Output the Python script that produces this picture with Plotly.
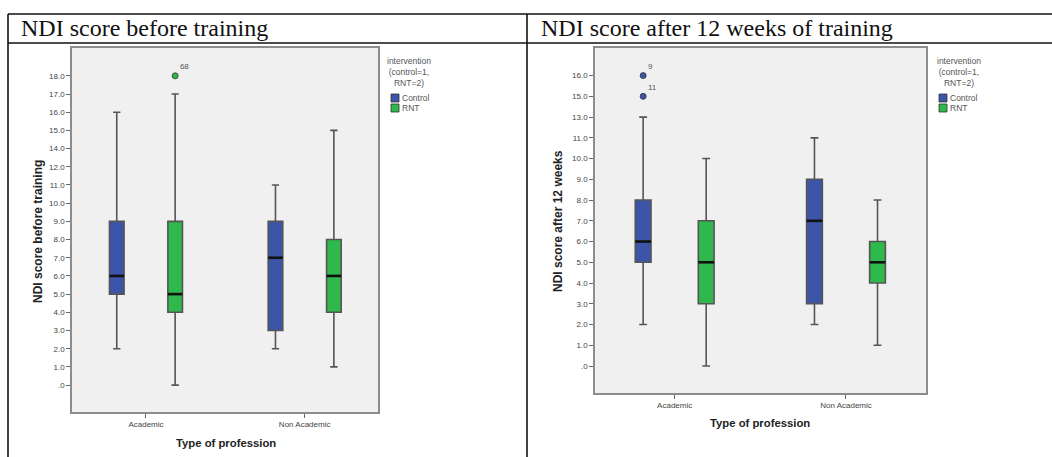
import plotly.graph_objects as go

W, H = 1052, 457

categories = ["Academic", "Non Academic"]

# y-axis levels shown on each chart (only observed values are listed, equally spaced)
before_levels = [0, 1, 2, 3, 4, 5, 6, 7, 8, 9, 10, 11, 12, 14, 15, 16, 17, 18]
after_levels = [0, 1, 2, 3, 4, 5, 6, 7, 8, 9, 10, 11, 13, 15, 16]

# NDI score before training
before_control_low = [2, 2]
before_control_q1 = [5, 3]
before_control_med = [6, 7]
before_control_q3 = [9, 9]
before_control_high = [16, 11]

before_rnt_low = [0, 1]
before_rnt_q1 = [4, 4]
before_rnt_med = [5, 6]
before_rnt_q3 = [9, 8]
before_rnt_high = [17, 15]

before_outlier_group = ["RNT"]
before_outlier_cat = ["Academic"]
before_outlier_val = [18]
before_outlier_lab = ["68"]

# NDI score after 12 weeks of training
after_control_low = [2, 2]
after_control_q1 = [5, 3]
after_control_med = [6, 7]
after_control_q3 = [8, 9]
after_control_high = [13, 11]

after_rnt_low = [0, 1]
after_rnt_q1 = [3, 4]
after_rnt_med = [5, 5]
after_rnt_q3 = [7, 6]
after_rnt_high = [10, 8]

after_outlier_group = ["Control", "Control"]
after_outlier_cat = ["Academic", "Academic"]
after_outlier_val = [16, 15]
after_outlier_lab = ["9", "11"]

COLORS = {"Control": "#3d55a9", "RNT": "#2fb84b"}
OFFSET = {"Control": -0.184, "RNT": 0.184}
BOXW = 0.092


def px_x(p):
    return p / W


def px_y(p):
    return 1 - p / H


def fmt(v):
    return ".0" if v == 0 else f"{v:.1f}"


fig = go.Figure()


def add_panel(xa, ya, levels, groups, outliers):
    idx = {v: i for i, v in enumerate(levels)}
    for name, (low, q1, med, q3, high) in groups.items():
        xs = [i + OFFSET[name] for i in range(len(categories))]
        fig.add_trace(go.Box(
            x=xs,
            lowerfence=[idx[v] for v in low],
            q1=[idx[v] for v in q1],
            median=[idx[v] for v in med],
            q3=[idx[v] for v in q3],
            upperfence=[idx[v] for v in high],
            width=BOXW,
            whiskerwidth=0.5,
            fillcolor=COLORS[name],
            line=dict(color="#555", width=1.6),
            boxpoints=False,
            showlegend=False,
            name=name,
            xaxis=xa, yaxis=ya,
        ))
        # thick black median bars
        mx, my = [], []
        for x, m in zip(xs, med):
            mx += [x - BOXW / 2, x + BOXW / 2, None]
            my += [idx[m], idx[m], None]
        fig.add_trace(go.Scatter(x=mx, y=my, mode="lines",
                                 line=dict(color="#111", width=2.6),
                                 showlegend=False, hoverinfo="skip",
                                 xaxis=xa, yaxis=ya))
    grp, cat, val, lab = outliers
    fig.add_trace(go.Scatter(
        x=[categories.index(c) + OFFSET[g] for g, c in zip(grp, cat)],
        y=[idx[v] for v in val],
        mode="markers+text",
        text=lab,
        textposition="top right",
        textfont=dict(size=8, color="#555", family="Liberation Sans"),
        marker=dict(size=6, color=[COLORS[g] for g in grp],
                    line=dict(color="#333", width=0.8)),
        showlegend=False,
        xaxis=xa, yaxis=ya,
    ))


add_panel("x", "y", before_levels, {
    "Control": (before_control_low, before_control_q1, before_control_med,
                before_control_q3, before_control_high),
    "RNT": (before_rnt_low, before_rnt_q1, before_rnt_med, before_rnt_q3,
            before_rnt_high),
}, (before_outlier_group, before_outlier_cat, before_outlier_val, before_outlier_lab))

add_panel("x2", "y2", after_levels, {
    "Control": (after_control_low, after_control_q1, after_control_med,
                after_control_q3, after_control_high),
    "RNT": (after_rnt_low, after_rnt_q1, after_rnt_med, after_rnt_q3,
            after_rnt_high),
}, (after_outlier_group, after_outlier_cat, after_outlier_val, after_outlier_lab))

tickfont = dict(size=8, color="#444", family="Liberation Sans")
axis_common = dict(showgrid=False, zeroline=False, showline=True, mirror=True,
                   linecolor="#8c8c8c", linewidth=1.5, ticks="outside",
                   ticklen=4, tickcolor="#666", tickfont=tickfont, fixedrange=True)

fig.update_layout(
    width=W, height=H,
    margin=dict(l=0, r=0, t=0, b=0),
    paper_bgcolor="white",
    plot_bgcolor="#f0f0f0",
    boxmode="overlay",
    showlegend=False,
    xaxis=dict(domain=[px_x(72), px_x(378)], range=[-0.466, 1.462],
               tickvals=[0, 1], ticktext=categories, anchor="y", **axis_common),
    yaxis=dict(domain=[px_y(412), px_y(48)], range=[-1.48, 18.53],
               tickvals=list(range(len(before_levels))),
               ticktext=[fmt(v) for v in before_levels], anchor="x", **axis_common),
    xaxis2=dict(domain=[px_x(595), px_x(926)], range=[-0.465, 1.467],
                tickvals=[0, 1], ticktext=categories, anchor="y2", **axis_common),
    yaxis2=dict(domain=[px_y(393), px_y(48)], range=[-1.30, 15.33],
                tickvals=list(range(len(after_levels))),
                ticktext=[fmt(v) for v in after_levels], anchor="x2", **axis_common),
)

# table borders
line = dict(color="#111", width=1.6)
shapes = [
    dict(type="line", xref="paper", yref="paper", x0=px_x(8), x1=1, y0=px_y(14), y1=px_y(14), line=line),
    dict(type="line", xref="paper", yref="paper", x0=px_x(8), x1=1, y0=px_y(43), y1=px_y(43), line=line),
    dict(type="line", xref="paper", yref="paper", x0=px_x(8), x1=px_x(8), y0=px_y(14), y1=0, line=line),
    dict(type="line", xref="paper", yref="paper", x0=px_x(527), x1=px_x(527), y0=px_y(14), y1=0, line=line),
]

annots = []
title_font = dict(family="Liberation Serif", size=24, color="#111")
annots.append(dict(text="NDI score before training", x=px_x(19), y=px_y(28),
                   xref="paper", yref="paper", xanchor="left", yanchor="middle",
                   showarrow=False, font=title_font))
annots.append(dict(text="NDI score after 12 weeks of training", x=px_x(539), y=px_y(28),
                   xref="paper", yref="paper", xanchor="left", yanchor="middle",
                   showarrow=False, font=title_font))

ybold = dict(family="Liberation Sans", size=12, color="#222")
xbold = dict(family="Liberation Sans", size=11.3, color="#222")
for text, x, y, ang, f in [
    ("<b>NDI score before training</b>", 38, 231, -90, ybold),
    ("<b>NDI score after 12 weeks</b>", 558, 221, -90, ybold),
    ("<b>Type of profession</b>", 226, 443, 0, xbold),
    ("<b>Type of profession</b>", 760, 423, 0, xbold),
]:
    annots.append(dict(text=text, x=px_x(x), y=px_y(y), textangle=ang,
                       xanchor="center", yanchor="middle",
                       xref="paper", yref="paper", showarrow=False, font=f))

# legends (drawn manually)
leg_font = dict(family="Liberation Sans", size=8.5, color="#555")
for cx, sq_x in [(409, 391), (959, 939)]:
    annots.append(dict(text="intervention<br>(control=1,<br>RNT=2)", x=px_x(cx), y=px_y(54),
                       xref="paper", yref="paper", xanchor="center", yanchor="top",
                       align="center", showarrow=False, font=leg_font))
    for k, (name, top) in enumerate([("Control", 94), ("RNT", 104)]):
        shapes.append(dict(type="rect", xref="paper", yref="paper",
                           x0=px_x(sq_x), x1=px_x(sq_x + 8), y0=px_y(top), y1=px_y(top + 8),
                           fillcolor=COLORS[name], line=dict(color="#333", width=0.8)))
        annots.append(dict(text=name, x=px_x(sq_x + 9), y=px_y(top + 4),
                           xref="paper", yref="paper", xanchor="left", yanchor="middle",
                           showarrow=False, font=leg_font))

fig.update_layout(shapes=shapes, annotations=annots)
fig.write_html("out.html", config={"displayModeBar": False},
               post_script="document.body.style.margin='0';document.body.style.overflow='hidden';")
